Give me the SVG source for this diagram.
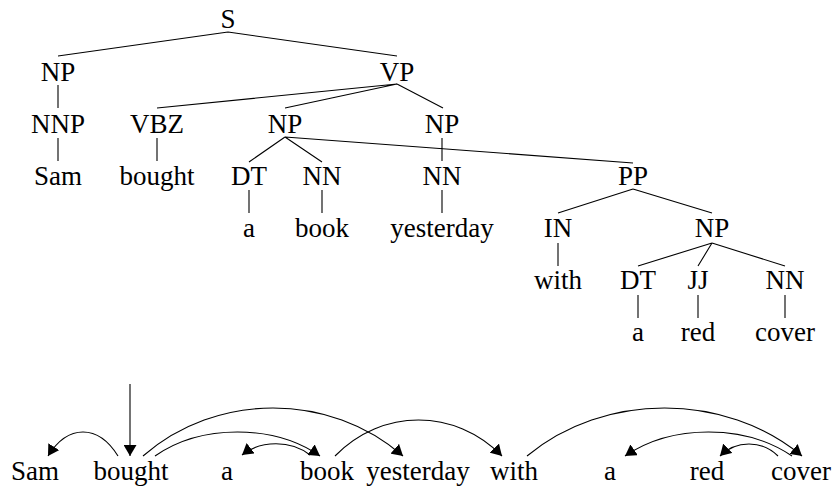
<svg xmlns="http://www.w3.org/2000/svg" width="833" height="487" viewBox="0 0 833 487">
<defs>
<marker id="ah" markerUnits="userSpaceOnUse" markerWidth="12" markerHeight="13" refX="11" refY="6.5" orient="auto" viewBox="0 0 12 13">
<path d="M0,0 L11,6.5 L0,13 z" fill="#000"/>
</marker>
</defs>
<g id="tree-edges" stroke="#000" stroke-width="1.1" fill="none">
<path d="M228,32 L58,56 M228,32 L397,56 M58,85 L58,108 M397,84 L157,108 M397,84 L285,108 M397,84 L443,108 M58,138 L58,161 M157,138 L157,161 M285,137 L249,162 M285,137 L322,162 M285,137 L633,163 M442,138 L442,161 M249,190 L249,213 M322,190 L322,213 M442,190 L442,213 M633,189 L558,213 M633,189 L712,213 M558,243 L558,266 M712,243 L638,266 M712,243 L698,266 M712,243 L785,266 M638,295 L638,318 M698,295 L698,318 M785,295 L785,318"/>
</g>
<g id="n-S"><text x="228" y="28" style="font-family:'Liberation Serif';font-size:27px" text-anchor="middle">S</text></g>
<g id="n-NP1"><text x="58" y="81" style="font-family:'Liberation Serif';font-size:27px" text-anchor="middle">NP</text></g>
<g id="n-VP"><text x="397" y="81" style="font-family:'Liberation Serif';font-size:27px" text-anchor="middle">VP</text></g>
<g id="n-NNP"><text x="58" y="133" style="font-family:'Liberation Serif';font-size:27px" text-anchor="middle">NNP</text></g>
<g id="n-VBZ"><text x="157" y="133" style="font-family:'Liberation Serif';font-size:27px" text-anchor="middle">VBZ</text></g>
<g id="n-NP2"><text x="285" y="133" style="font-family:'Liberation Serif';font-size:27px" text-anchor="middle">NP</text></g>
<g id="n-NP3"><text x="442" y="133" style="font-family:'Liberation Serif';font-size:27px" text-anchor="middle">NP</text></g>
<g id="n-Sam"><text x="58" y="185" style="font-family:'Liberation Serif';font-size:27px" text-anchor="middle">Sam</text></g>
<g id="n-bought"><text x="157" y="185" style="font-family:'Liberation Serif';font-size:27px" text-anchor="middle">bought</text></g>
<g id="n-DT1"><text x="249" y="185" style="font-family:'Liberation Serif';font-size:27px" text-anchor="middle">DT</text></g>
<g id="n-NN1"><text x="322" y="185" style="font-family:'Liberation Serif';font-size:27px" text-anchor="middle">NN</text></g>
<g id="n-NN2"><text x="442" y="185" style="font-family:'Liberation Serif';font-size:27px" text-anchor="middle">NN</text></g>
<g id="n-PP"><text x="633" y="185" style="font-family:'Liberation Serif';font-size:27px" text-anchor="middle">PP</text></g>
<g id="n-a1"><text x="249" y="237" style="font-family:'Liberation Serif';font-size:27px" text-anchor="middle">a</text></g>
<g id="n-book"><text x="322" y="237" style="font-family:'Liberation Serif';font-size:27px" text-anchor="middle">book</text></g>
<g id="n-yesterday"><text x="442" y="237" style="font-family:'Liberation Serif';font-size:27px" text-anchor="middle">yesterday</text></g>
<g id="n-IN"><text x="558" y="237" style="font-family:'Liberation Serif';font-size:27px" text-anchor="middle">IN</text></g>
<g id="n-NP4"><text x="712" y="237" style="font-family:'Liberation Serif';font-size:27px" text-anchor="middle">NP</text></g>
<g id="n-with"><text x="558" y="289" style="font-family:'Liberation Serif';font-size:27px" text-anchor="middle">with</text></g>
<g id="n-DT2"><text x="638" y="289" style="font-family:'Liberation Serif';font-size:27px" text-anchor="middle">DT</text></g>
<g id="n-JJ"><text x="698" y="289" style="font-family:'Liberation Serif';font-size:27px" text-anchor="middle">JJ</text></g>
<g id="n-NN3"><text x="785" y="289" style="font-family:'Liberation Serif';font-size:27px" text-anchor="middle">NN</text></g>
<g id="n-a2"><text x="638" y="341" style="font-family:'Liberation Serif';font-size:27px" text-anchor="middle">a</text></g>
<g id="n-red"><text x="698" y="341" style="font-family:'Liberation Serif';font-size:27px" text-anchor="middle">red</text></g>
<g id="n-cover"><text x="785" y="341" style="font-family:'Liberation Serif';font-size:27px" text-anchor="middle">cover</text></g>
<g id="w-Sam"><text x="35" y="480" style="font-family:'Liberation Serif';font-size:27px" text-anchor="middle">Sam</text></g>
<g id="w-bought"><text x="131" y="480" style="font-family:'Liberation Serif';font-size:27px" text-anchor="middle">bought</text></g>
<g id="w-a1"><text x="227" y="480" style="font-family:'Liberation Serif';font-size:27px" text-anchor="middle">a</text></g>
<g id="w-book"><text x="327" y="480" style="font-family:'Liberation Serif';font-size:27px" text-anchor="middle">book</text></g>
<g id="w-yesterday"><text x="418" y="480" style="font-family:'Liberation Serif';font-size:27px" text-anchor="middle">yesterday</text></g>
<g id="w-with"><text x="514" y="480" style="font-family:'Liberation Serif';font-size:27px" text-anchor="middle">with</text></g>
<g id="w-a2"><text x="610" y="480" style="font-family:'Liberation Serif';font-size:27px" text-anchor="middle">a</text></g>
<g id="w-red"><text x="707" y="480" style="font-family:'Liberation Serif';font-size:27px" text-anchor="middle">red</text></g>
<g id="w-cover"><text x="801" y="480" style="font-family:'Liberation Serif';font-size:27px" text-anchor="middle">cover</text></g>
<g id="dep-arcs" stroke="#000" stroke-width="1.1" fill="none" marker-end="url(#ah)">
<path d="M130,384 L130,456"/>
<path d="M118,456 C98,424 68,424 48,456"/>
<path d="M155,456 C201,424 274,424 320,456"/>
<path d="M143,456 C216,392 330,392 403,456"/>
<path d="M310,455 C291,440 261,440 242,455"/>
<path d="M335,456 C382,408 455,408 502,456"/>
<path d="M527,456 C604,392 725,392 802,456"/>
<path d="M792,456 C745,424 672,424 625,456"/>
<path d="M778,456 C762,440 736,440 720,456"/>
</g>
</svg>
